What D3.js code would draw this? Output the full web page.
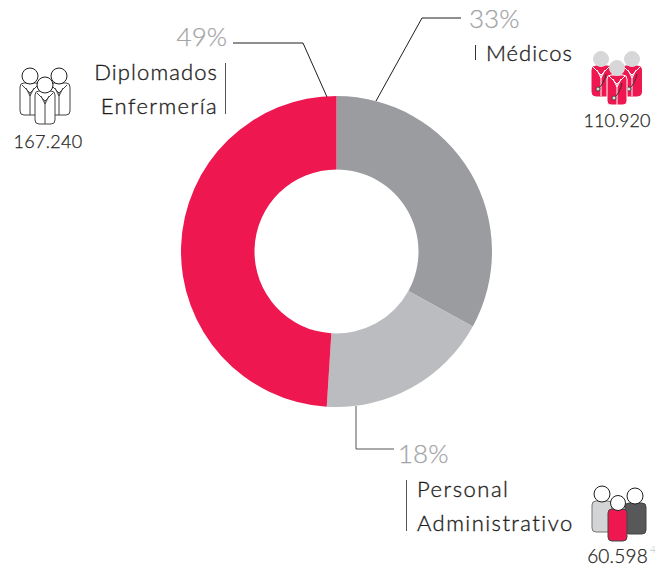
<!DOCTYPE html>
<html><head><meta charset="utf-8">
<script src="https://cdn.jsdelivr.net/npm/d3@7/dist/d3.min.js"></script>
<style>
html,body{margin:0;padding:0;background:#fff}
svg{display:block}
text{font-family:Lato,"Open Sans",sans-serif;font-weight:300}
</style></head><body>
<svg id="c" width="656" height="567"></svg>
<script>
const categories=["Médicos","Personal Administrativo","Diplomados Enfermería"];
const shares=[33,18,49];
const counts=["110.920","60.598","167.240"];
const colors=["#9b9c9f","#bbbcbf","#ee1750"];

const svg=d3.select("#c");
const cx=336.5,cy=251.5,R=155.5,r=82;
const pie=d3.pie().sort(null).value(d=>d);
const arc=d3.arc().innerRadius(r).outerRadius(R);
svg.append("g").attr("transform",`translate(${cx},${cy})`)
 .selectAll("path").data(pie(shares)).join("path")
 .attr("d",arc).attr("fill",(d,i)=>colors[i]);

const dark="#1e1e20", pct="#a3a4a7";
function line(pts,c,w){svg.append("path").attr("d",d3.line()(pts)).attr("fill","none").attr("stroke",c).attr("stroke-width",w);}
line([[233,43],[303,43],[327,97]],dark,1);
line([[461,18],[422,18],[376,101]],dark,1);
line([[356,406],[356,449],[394,449]],"#555",1);
line([[225.5,63],[225.5,114]],"#555",1);
line([[475.5,45],[475.5,60]],"#333",1);
line([[406.5,480],[406.5,531]],"#555",1);

function txt(x,y,s,size,fill,anchor,ls,sw){
 svg.append("text").attr("x",x).attr("y",y).text(s).attr("font-size",size).attr("fill",fill)
  .attr("text-anchor",anchor||"start").attr("letter-spacing",ls||0)
  .attr("stroke",sw?fill:"none").attr("stroke-width",sw||0);
}
txt(227,46,shares[2]+"%",26,pct,"end",0,.25);
txt(469,28,shares[0]+"%",26,pct,"start",0,.25);
txt(398,463,shares[1]+"%",26,pct,"start",0,.25);
txt(218,80,"Diplomados",22,dark,"end",1.1,.35);
txt(218,114,"Enfermería",22,dark,"end",1.4,.35);
txt(486,61,categories[0],22,dark,"start",1,.35);
txt(417,497,"Personal",22,dark,"start",1.5,.35);
txt(417,531,"Administrativo",22,dark,"start",1.45,.35);
txt(48,148,counts[2],18,dark,"middle",.3,.25);
txt(617,127,counts[0],18,dark,"middle",0,.25);
txt(617.5,563,counts[1],19,dark,"middle",.2,.25);
txt(650,553,"4",10,"#bbb","start",0);

function person(hx,hy,hr,bx,by,bw,bh,fill,stroke,head,headStroke){
 const g=svg.append("g");
 g.append("rect").attr("x",bx).attr("y",by).attr("width",bw).attr("height",bh).attr("rx",4)
  .attr("fill",fill).attr("stroke",stroke).attr("stroke-width",1);
 g.append("circle").attr("cx",hx).attr("cy",hy).attr("r",hr).attr("fill",head).attr("stroke",headStroke).attr("stroke-width",1);
 return g;
}
function coat(g,x,y,h,c){
 g.append("path").attr("d",`M${x-8},${y}L${x},${y+8}L${x+8},${y}M${x-4},${y+3}L${x},${y+11}L${x+4},${y+3}M${x},${y+8}V${y+h}`)
  .attr("fill","none").attr("stroke",c).attr("stroke-width",1);
}
let g;
g=person(30,76,8,20,83,20,32,"#fff","#444","#fff",dark); coat(g,30,85,30,"#444");
g=person(59,76,8,50,83,20,32,"#fff","#444","#fff",dark); coat(g,59,85,30,"#444");
g=person(45,85,8,35,91,20,33,"#fff","#444","#fff",dark); coat(g,45,93,31,"#444");
[[601,59,592,66],[632,59,622,66],[617,68,607,75]].forEach(([hx,hy,bx,by],i)=>{
 const h=30;
 const s=person(hx,hy,7.5,bx,by,i===2?20:19.5,h,colors[2],i===2?"#fff":colors[2],"#d7d7d9","#d7d7d9");
 coat(s,hx,by+1,h-1,"#fff");
 s.append("path").attr("d",`M${hx+5},${by+8}Q${hx+3},${by+18} ${hx-3},${by+23}`).attr("fill","none").attr("stroke","#333").attr("stroke-width",1);
 s.append("circle").attr("cx",hx-3).attr("cy",by+23).attr("r",2).attr("fill","#ddd").attr("stroke","#333").attr("stroke-width",.8);
});
person(602,494,8,592,501,20,31,"#d3d4d6","#777","#fff",dark);
person(635,496,8,625,503,21,31,"#58585a","#444","#fff",dark);
person(618,503,7.5,608,509,19,32,colors[2],"#444","#fff",dark);
</script></body></html>
